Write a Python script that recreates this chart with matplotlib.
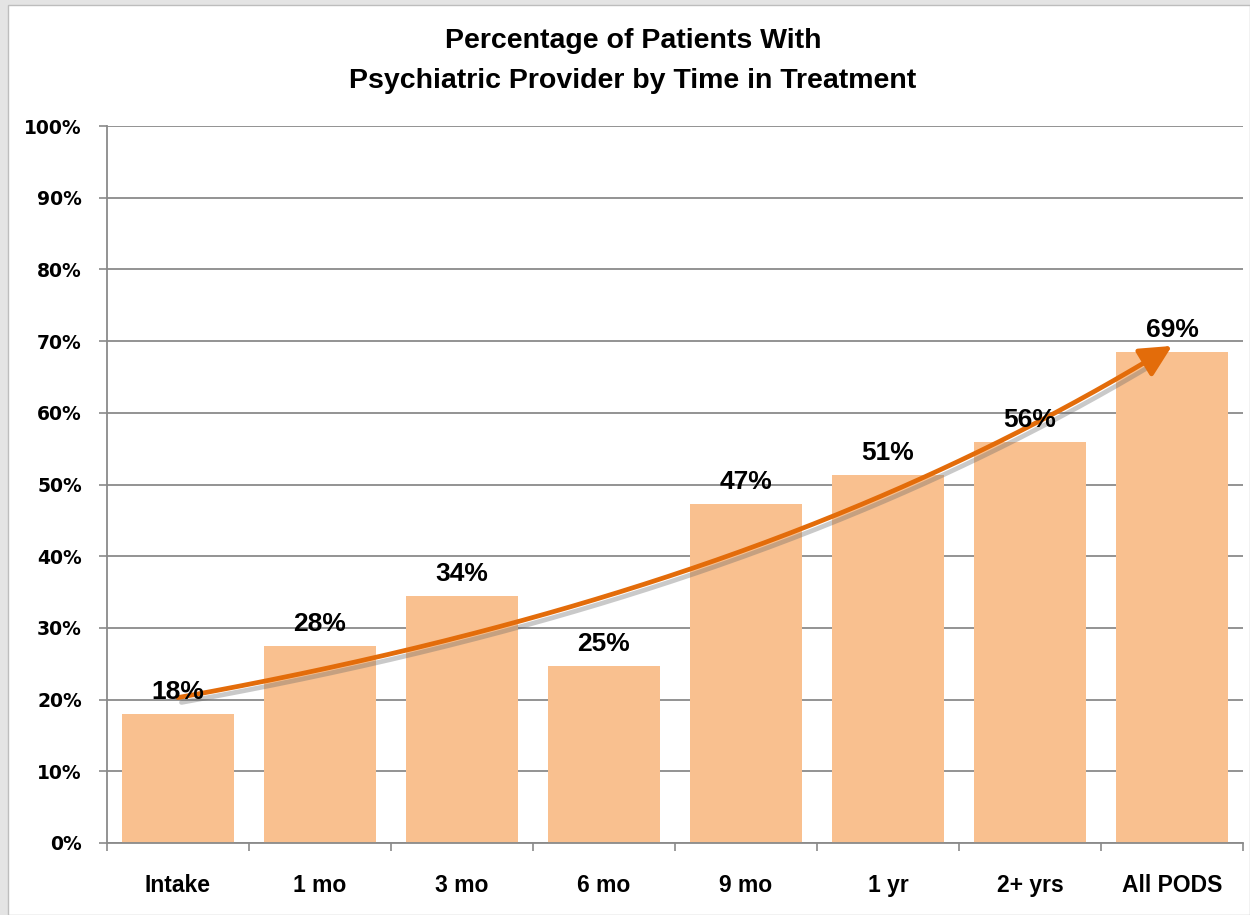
import numpy as np
import matplotlib
matplotlib.use("Agg")
import matplotlib.pyplot as plt
import matplotlib.patheffects as pe
from matplotlib.patches import Rectangle

# data
categories = ["Intake", "1 mo", "3 mo", "6 mo", "9 mo", "1 yr", "2+ yrs", "All PODS"]
pct = [18.0, 27.5, 34.4, 24.7, 47.3, 51.3, 55.9, 68.5]
pct_labels = ["18%", "28%", "34%", "25%", "47%", "51%", "56%", "69%"]
yticks = [0, 10, 20, 30, 40, 50, 60, 70, 80, 90, 100]

BAR = "#F9C08F"
ARROW = "#E36C0A"
GRID = "#8A8A8A"
LAB = "Liberation Sans"

fig = plt.figure(figsize=(12.5, 9.15), dpi=100)
fig.patch.set_facecolor("#E4E4E4")
fig.add_artist(Rectangle((8 / 1250, 0), 1 - 8 / 1250, 1 - 5 / 915,
                         transform=fig.transFigure, facecolor="white",
                         edgecolor="#BDBDBD", lw=1, zorder=-1))

ax = fig.add_axes([107 / 1250, 72 / 915, 1136 / 1250, 717 / 915])
ax.set_facecolor("none")
x = np.arange(len(categories))
ax.bar(x, pct, width=0.79, color=BAR, zorder=2)

for xi, v, s in zip(x, pct, pct_labels):
    ax.annotate(s, (xi, v), xytext=(0, 11), textcoords="offset points",
                ha="center", va="baseline", fontsize=19, fontweight="bold",
                family=LAB, color="black", zorder=5)

# exponential trend through the bars, drawn as an arrow
b, a = np.polyfit(x, np.log(pct), 1)
xs = np.linspace(0, 6.8, 200)
ys = np.exp(a + b * xs)
shadow = [pe.SimpleLineShadow(offset=(2.5, -3.5), shadow_color="#666666", alpha=0.35),
          pe.Normal()]
ax.plot(xs, ys, color=ARROW, lw=3.4, solid_capstyle="round", zorder=4,
        path_effects=shadow)
x_end = 7.0
ax.annotate("", xy=(x_end, np.exp(a + b * x_end)), xytext=(xs[-1], ys[-1]),
            arrowprops=dict(arrowstyle="-|>,head_length=1.2,head_width=0.6",
                            mutation_scale=16, color=ARROW, lw=3.4,
                            shrinkA=0, shrinkB=0),
            zorder=4)

ax.set_xlim(-0.5, 7.5)
ax.set_ylim(0, 100)
ax.set_yticks(yticks)
ax.set_yticklabels([f"{t}%" for t in yticks], fontsize=13.5, fontweight="bold",
                   family="DejaVu Sans")
ax.set_xticks(x)
ax.set_xticklabels(categories, fontsize=16.5, fontweight="bold", family=LAB)
ax.set_xticks(np.arange(-0.5, 8, 1), minor=True)
ax.tick_params(axis="x", which="major", length=0, pad=22)
ax.tick_params(axis="x", which="minor", length=6, color=GRID, width=1.2)
ax.tick_params(axis="y", length=6, color=GRID, width=1.2, pad=12)

ax.grid(axis="y", color=GRID, lw=1.3, zorder=0)
ax.set_axisbelow(True)
for s in ("top", "right"):
    ax.spines[s].set_visible(False)
for s in ("left", "bottom"):
    ax.spines[s].set_color(GRID)
    ax.spines[s].set_linewidth(1.3)

fig.text(633 / 1250, 1 - 41 / 915, "Percentage of Patients With",
         ha="center", va="center", fontsize=20.5, fontweight="bold", family=LAB)
fig.text(633 / 1250, 1 - 81 / 915, "Psychiatric Provider by Time in Treatment",
         ha="center", va="center", fontsize=20.5, fontweight="bold", family=LAB)

fig.savefig("out.png", dpi=100)
